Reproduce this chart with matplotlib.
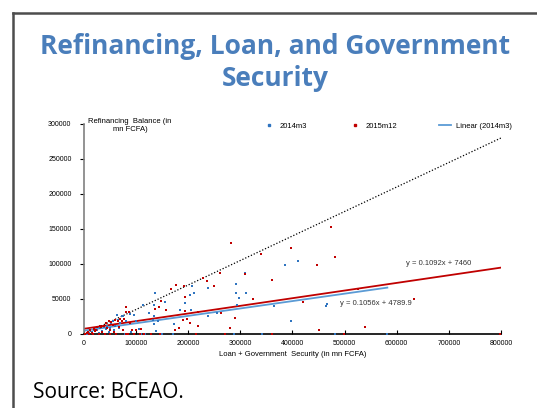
import matplotlib
matplotlib.use("Agg")
import matplotlib.pyplot as plt
from matplotlib.lines import Line2D
import numpy as np

# scatter data, thousands of mn FCFA (x = loan + government security, y = refinancing)
blue_x = [5, 10, 15, 20, 25, 28, 30, 35, 38, 40, 42, 45, 48, 50, 52, 55, 58, 60, 63, 65,
          68, 70, 72, 75, 78, 80, 85, 88, 90, 95, 100, 106, 110, 114, 118, 124, 128, 132, 135, 135,
          135, 137, 139, 142, 150, 156, 170, 173, 185, 193, 204, 206, 208, 211, 237, 238, 256, 288, 291, 291,
          293, 298, 311, 309, 342, 364, 386, 398, 411, 465, 467, 482, 582]
blue_y = [0, 2, 3, 5, 6, 2, 8, 4, 10, 0, 7, 12, 3, 9, 15, 18, 5, 12, 27, 20,
          8, 15, 26, 25, 0, 18, 0, 28, 3, 27, 18, 7, 0, 42, 0, 30, 0, 20, 25, 14,
          42, 59, 4, 18, 0, 46, 0, 14, 34, 44, 56, 34, 68, 59, 65, 25, 30, 0, 71, 59,
          42, 52, 58, 87, 0, 40, 98, 19, 104, 40, 43, 0, 0]

red_x = [2, 5, 8, 10, 12, 15, 18, 20, 22, 23, 25, 28, 30, 33, 35, 38, 40, 42, 45, 48,
         49, 50, 52, 55, 58, 60, 62, 65, 68, 70, 72, 75, 77, 80, 81, 81, 84, 86, 88, 92,
         95, 100, 108, 110, 115, 128, 137, 143, 146, 148, 158, 167, 174, 177, 183, 190, 192, 194, 194, 198,
         203, 214, 219, 219, 229, 236, 250, 261, 263, 270, 280, 283, 290, 309, 325, 340, 360, 361, 398, 421,
         448, 450, 474, 481, 499, 526, 539, 634, 798]
red_y = [0, 1, 3, 0, 5, 2, 0, 7, 4, 6, 10, 0, 12, 10, 3, 12, 0, 15, 8, 18,
         6, 0, 17, 13, 3, 20, 0, 18, 10, 22, 19, 5, 22, 0, 39, 31, 0, 31, 16, 6,
         0, 5, 0, 7, 0, 0, 35, 38, 0, 47, 34, 64, 6, 70, 8, 20, 69, 53, 33, 21,
         15, 0, 11, 31, 80, 75, 68, 87, 30, 0, 9, 130, 23, 85, 50, 114, 0, 77, 123, 46,
         98, 6, 153, 110, 0, 64, 10, 50, 0]

blue_x = np.array(blue_x) * 1000
blue_y = np.array(blue_y) * 1000
red_x = np.array(red_x) * 1000
red_y = np.array(red_y) * 1000

# trend lines as printed on the chart
blue_slope, blue_icpt = 0.1056, 4789.9
red_slope, red_icpt = 0.1092, 7460
ref_slope = 0.35
blue_fit_x = [0, 582000]
red_fit_x = [0, 800000]
ref_x = [0, 800000]

x_ticks = np.arange(0, 800001, 100000)
y_ticks = np.arange(0, 300001, 50000)

BLUE = "#2f74c0"
RED = "#c00000"
FIT_BLUE = "#5b9bd5"
TITLE = "#4a7ebb"

fig = plt.figure(figsize=(5.37, 4.08), dpi=100)
ax = fig.add_axes([0.1564, 0.1814, 0.7765, 0.5147])

ax.plot(ref_x, [ref_slope * v for v in ref_x], ls=(0, (1, 1.5)), color="black", lw=0.9)
ax.plot(red_fit_x, [red_slope * v + red_icpt for v in red_fit_x], color=RED, lw=1.3)
ax.plot(blue_fit_x, [blue_slope * v + blue_icpt for v in blue_fit_x], color=FIT_BLUE, lw=1.3)
ax.scatter(blue_x, blue_y, s=4, marker="s", color=BLUE, lw=0, zorder=3, clip_on=False)
ax.scatter(red_x, red_y, s=4, marker="s", color=RED, lw=0, zorder=3, clip_on=False)

ax.text(681000, 100000, "y = 0.1092x + 7460", fontsize=5.5, family="Liberation Sans",
        ha="center", va="center", color="#333333")
ax.text(560000, 44000, "y = 0.1056x + 4789.9", fontsize=5.5, family="Liberation Sans",
        ha="center", va="center", color="#333333")

ax.set_xlim(0, 800000)
ax.set_ylim(0, 300000)
ax.set_xticks(x_ticks)
ax.set_yticks(y_ticks)
ax.set_xticklabels([str(v) for v in x_ticks], fontsize=5, family="Liberation Sans")
ax.set_yticklabels([str(v) for v in y_ticks], fontsize=5, family="Liberation Sans")
ax.tick_params(axis="x", direction="in", length=3, width=0.8, pad=4)
ax.tick_params(axis="y", direction="out", length=3, width=0.8, pad=6)
for s in ["top", "right"]:
    ax.spines[s].set_visible(False)
ax.spines["left"].set_color("#808080")
ax.spines["left"].set_linewidth(1.2)
ax.spines["bottom"].set_linewidth(1.2)
ax.set_xlabel("Loan + Government  Security (in mn FCFA)", fontsize=5.5,
              family="Liberation Sans", labelpad=3)
ax.text(0.11, 0.995, "Refinancing  Balance (in\nmn FCFA)", transform=ax.transAxes,
        fontsize=5.5, family="Liberation Sans", ha="center", va="center")

handles = [
    Line2D([], [], ls="none", marker="s", ms=2, color=BLUE),
    Line2D([], [], ls="none", marker="s", ms=2, color=RED),
    Line2D([], [], color=FIT_BLUE, lw=1.3),
]
ax.legend(handles, ["2014m3", "2015m12", "Linear (2014m3)"], loc="center",
          bbox_to_anchor=(0.727, 0.99), ncol=3, frameon=False,
          prop={"family": "Liberation Sans", "size": 5.5},
          columnspacing=5.5, handlelength=1.6, handletextpad=0.6)

fig.text(0.512, 0.846, "Refinancing, Loan, and Government\nSecurity", ha="center", va="center",
         fontsize=19, fontweight="bold", family="Open Sans", color=TITLE, linespacing=1.25)
fig.text(33 / 537, 1 - 392 / 408, "Source: BCEAO.", ha="left", va="center",
         fontsize=15, family="Open Sans", color="black")

# slide frame
fig.add_artist(Line2D([13 / 537, 13 / 537], [0, 1 - 13 / 408], color="#4d4d4d", lw=1.8,
                      transform=fig.transFigure))
fig.add_artist(Line2D([13 / 537, 1], [1 - 13 / 408, 1 - 13 / 408], color="#4d4d4d", lw=1.8,
                      transform=fig.transFigure))

fig.savefig("out.png", dpi=100)
